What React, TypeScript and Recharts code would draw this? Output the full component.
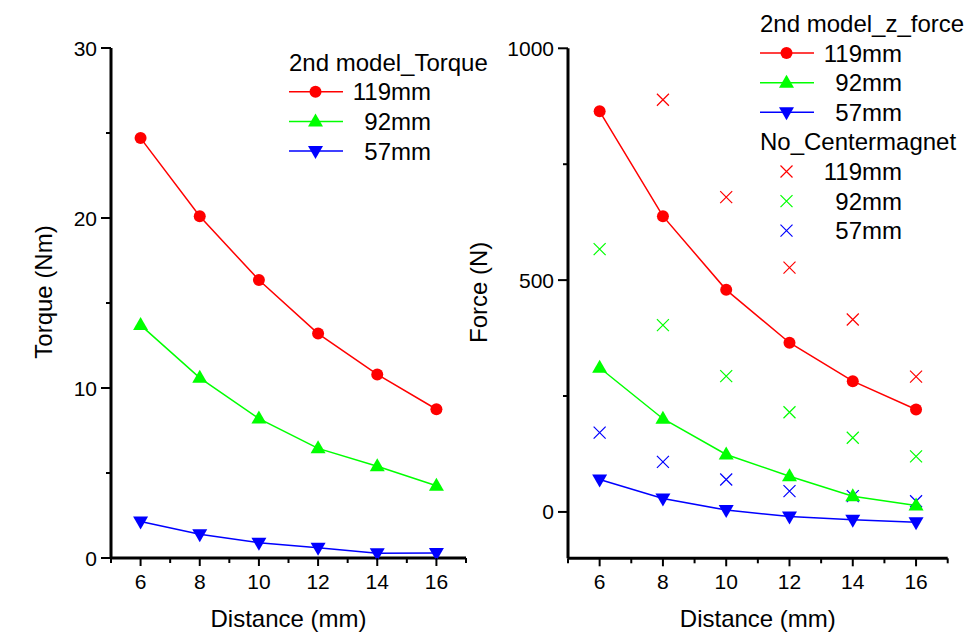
import { ComposedChart, Label, Legend, Line, Scatter, XAxis, YAxis } from "recharts";

const distances = [6, 8, 10, 12, 14, 16];
const xTicks = [5, 6, 7, 8, 9, 10, 11, 12, 13, 14, 15, 16, 17];

// 2nd model torque (Nm)
const torque119 = [24.7, 20.1, 16.35, 13.2, 10.8, 8.75];
const torque92 = [13.7, 10.6, 8.2, 6.45, 5.4, 4.25];
const torque57 = [2.15, 1.4, 0.9, 0.6, 0.28, 0.3];
const torqueTicks = [0, 5, 10, 15, 20, 25, 30];

// 2nd model z force (N)
const force119 = [864, 638, 479, 365, 282, 221];
const force92 = [311, 201, 124, 77, 34, 14];
const force57 = [70, 29, 4, -10, -17, -22];

// no center magnet (N)
const noMagnet119 = [null, 889, 679, 527, 415, 292];
const noMagnet92 = [567, 403, 293, 215, 160, 120];
const noMagnet57 = [171, 108, 70, 45, 34, 23];
const forceTicks = [0, 250, 500, 750, 1000];

const RED = "#ff0000";
const GREEN = "#00ff00";
const BLUE = "#0000ff";
const FONT = "'Liberation Sans', Arial, sans-serif";

const torqueRows = distances.map((d, i) => ({
  distance: d,
  t119: torque119[i],
  t92: torque92[i],
  t57: torque57[i],
}));

const forceRows = distances.map((d, i) => ({
  distance: d,
  f119: force119[i],
  f92: force92[i],
  f57: force57[i],
  n119: noMagnet119[i],
  n92: noMagnet92[i],
  n57: noMagnet57[i],
}));

type Shape = "circle" | "up" | "down" | "x";

function Marker({ shape, cx, cy, color }: { shape: Shape; cx: number; cy: number; color: string }) {
  if (cx == null || cy == null || isNaN(cx) || isNaN(cy)) return null;
  switch (shape) {
    case "circle":
      return <circle cx={cx} cy={cy} r={6} fill={color} />;
    case "up":
      return <polygon points={`${cx},${cy - 8} ${cx + 7.5},${cy + 5} ${cx - 7.5},${cy + 5}`} fill={color} />;
    case "down":
      return <polygon points={`${cx - 7.5},${cy - 5} ${cx + 7.5},${cy - 5} ${cx},${cy + 8}`} fill={color} />;
    default:
      return (
        <path
          d={`M${cx - 6},${cy - 6}L${cx + 6},${cy + 6}M${cx + 6},${cy - 6}L${cx - 6},${cy + 6}`}
          stroke={color}
          strokeWidth={1.2}
          fill="none"
        />
      );
  }
}

function XTick(props: any) {
  const { x, y, payload } = props;
  const v = payload.value;
  const major = v % 2 === 0;
  return (
    <g>
      <line x1={x} x2={x} y1={y} y2={y + (major ? 8 : 5)} stroke="#000" strokeWidth={2} />
      {major && (
        <text x={x} y={y + 31} textAnchor="middle" fontSize={21} fill="#000">
          {v}
        </text>
      )}
    </g>
  );
}

function YTick(props: any) {
  const { x, y, payload, step } = props;
  const v = payload.value;
  const major = v % step === 0;
  return (
    <g>
      <line x1={x} x2={x - (major ? 10 : 5)} y1={y} y2={y} stroke="#000" strokeWidth={2} />
      {major && (
        <text x={x - 14} y={y + 7.5} textAnchor="end" fontSize={21} fill="#000">
          {v}
        </text>
      )}
    </g>
  );
}

function YTitle(props: any) {
  const { viewBox, value, dx } = props;
  const cx = viewBox.x + dx;
  const cy = viewBox.y + viewBox.height / 2 - 11;
  return (
    <text
      x={cx}
      y={cy}
      transform={`rotate(-90 ${cx} ${cy})`}
      textAnchor="middle"
      dominantBaseline="central"
      fontSize={24}
      fill="#000"
    >
      {value}
    </text>
  );
}

interface LegendRow {
  label: string;
  color?: string;
  shape?: Shape;
  line?: boolean;
}

const torqueLegend: LegendRow[] = [
  { label: "2nd model_Torque" },
  { label: "119mm", color: RED, shape: "circle", line: true },
  { label: "92mm", color: GREEN, shape: "up", line: true },
  { label: "57mm", color: BLUE, shape: "down", line: true },
];

const forceLegend: LegendRow[] = [
  { label: "2nd model_z_force" },
  { label: "119mm", color: RED, shape: "circle", line: true },
  { label: "92mm", color: GREEN, shape: "up", line: true },
  { label: "57mm", color: BLUE, shape: "down", line: true },
  { label: "No_Centermagnet" },
  { label: "119mm", color: RED, shape: "x" },
  { label: "92mm", color: GREEN, shape: "x" },
  { label: "57mm", color: BLUE, shape: "x" },
];

function LegendBox({ rows, firstY, step }: { rows: LegendRow[]; firstY: number; step: number }) {
  return (
    <svg width={230} height={firstY + step * rows.length} style={{ display: "block", overflow: "visible" }}>
      {rows.map((r, i) => {
        const cy = firstY + i * step;
        if (!r.color) {
          return (
            <text key={i} x={5} y={cy + 8.5} fontSize={24} fill="#000">
              {r.label}
            </text>
          );
        }
        return (
          <g key={i}>
            {r.line && <line x1={5} x2={59} y1={cy} y2={cy} stroke={r.color} strokeWidth={1.5} />}
            <Marker shape={r.shape!} cx={31.5} cy={cy} color={r.color} />
            <text x={147} y={cy + 8.5} textAnchor="end" fontSize={24} fill="#000">
              {r.label}
            </text>
          </g>
        );
      })}
    </svg>
  );
}

const axisLine = { stroke: "#000", strokeWidth: 3 };

function lineSeries(key: string, color: string, shape: Shape) {
  return (
    <Line
      key={key}
      type="linear"
      dataKey={key}
      stroke={color}
      strokeWidth={1.5}
      dot={(p: any) => <Marker key={p.index} shape={shape} cx={p.cx} cy={p.cy} color={color} />}
      activeDot={false}
      isAnimationActive={false}
    />
  );
}

function TorqueChart() {
  return (
    <ComposedChart width={500} height={641} data={torqueRows} margin={{ top: 48, right: 34, bottom: 0, left: 0 }}>
      <XAxis
        dataKey="distance"
        type="number"
        domain={[5, 17]}
        ticks={xTicks}
        interval={0}
        height={83}
        axisLine={axisLine}
        tickLine={false}
        tickSize={0}
        tickMargin={0}
        tick={(p: any) => <XTick {...p} />}
      >
        <Label value="Distance (mm)" position="insideBottom" offset={14} fontSize={24} fill="#000" />
      </XAxis>
      <YAxis
        type="number"
        domain={[0, 30]}
        ticks={torqueTicks}
        interval={0}
        width={111}
        axisLine={axisLine}
        tickLine={false}
        tickSize={0}
        tickMargin={0}
        tick={(p: any) => <YTick {...p} step={10} />}
        label={<YTitle value="Torque (Nm)" dx={43} />}
      />
      <Legend
        layout="horizontal"
        align="center"
        verticalAlign="middle"
        wrapperStyle={{ left: 284, top: 0, width: 230, height: 180 }}
        content={() => <LegendBox rows={torqueLegend} firstY={62} step={29.7} />}
      />
      {lineSeries("t119", RED, "circle")}
      {lineSeries("t92", GREEN, "up")}
      {lineSeries("t57", BLUE, "down")}
    </ComposedChart>
  );
}

function ForceChart() {
  const scatter = (key: "n119" | "n92" | "n57", color: string) => (
    <Scatter
      key={key}
      data={forceRows.filter((r) => r[key] != null)}
      dataKey={key}
      fill={color}
      shape={(p: any) => <Marker shape="x" cx={p.cx} cy={p.cy} color={color} />}
      isAnimationActive={false}
    />
  );
  return (
    <ComposedChart width={514} height={641} data={forceRows} margin={{ top: 48.3, right: 26.3, bottom: 0, left: 0 }}>
      <XAxis
        dataKey="distance"
        type="number"
        domain={[5, 17]}
        ticks={xTicks}
        interval={0}
        height={82.7}
        axisLine={axisLine}
        tickLine={false}
        tickSize={0}
        tickMargin={0}
        tick={(p: any) => <XTick {...p} />}
      >
        <Label value="Distance (mm)" position="insideBottom" offset={14} fontSize={24} fill="#000" />
      </XAxis>
      <YAxis
        type="number"
        domain={[-100, 1000]}
        ticks={forceTicks}
        interval={0}
        width={108}
        axisLine={axisLine}
        tickLine={false}
        tickSize={0}
        tickMargin={0}
        tick={(p: any) => <YTick {...p} step={500} />}
        label={<YTitle value="Force (N)" dx={19} />}
      />
      <Legend
        layout="horizontal"
        align="center"
        verticalAlign="middle"
        wrapperStyle={{ left: 294.5, top: 0, width: 230, height: 260 }}
        content={() => <LegendBox rows={forceLegend} firstY={23.5} step={29.6} />}
      />
      {lineSeries("f119", RED, "circle")}
      {lineSeries("f92", GREEN, "up")}
      {lineSeries("f57", BLUE, "down")}
      {scatter("n119", RED)}
      {scatter("n92", GREEN)}
      {scatter("n57", BLUE)}
    </ComposedChart>
  );
}

export default function App() {
  return (
    <div
      style={{
        position: "absolute",
        left: 0,
        top: 0,
        width: 974,
        height: 641,
        background: "#fff",
        fontFamily: FONT,
        overflow: "hidden",
      }}
    >
      <div style={{ position: "absolute", left: 0, top: 0 }}>
        <TorqueChart />
      </div>
      <div style={{ position: "absolute", left: 460, top: 0 }}>
        <ForceChart />
      </div>
    </div>
  );
}
